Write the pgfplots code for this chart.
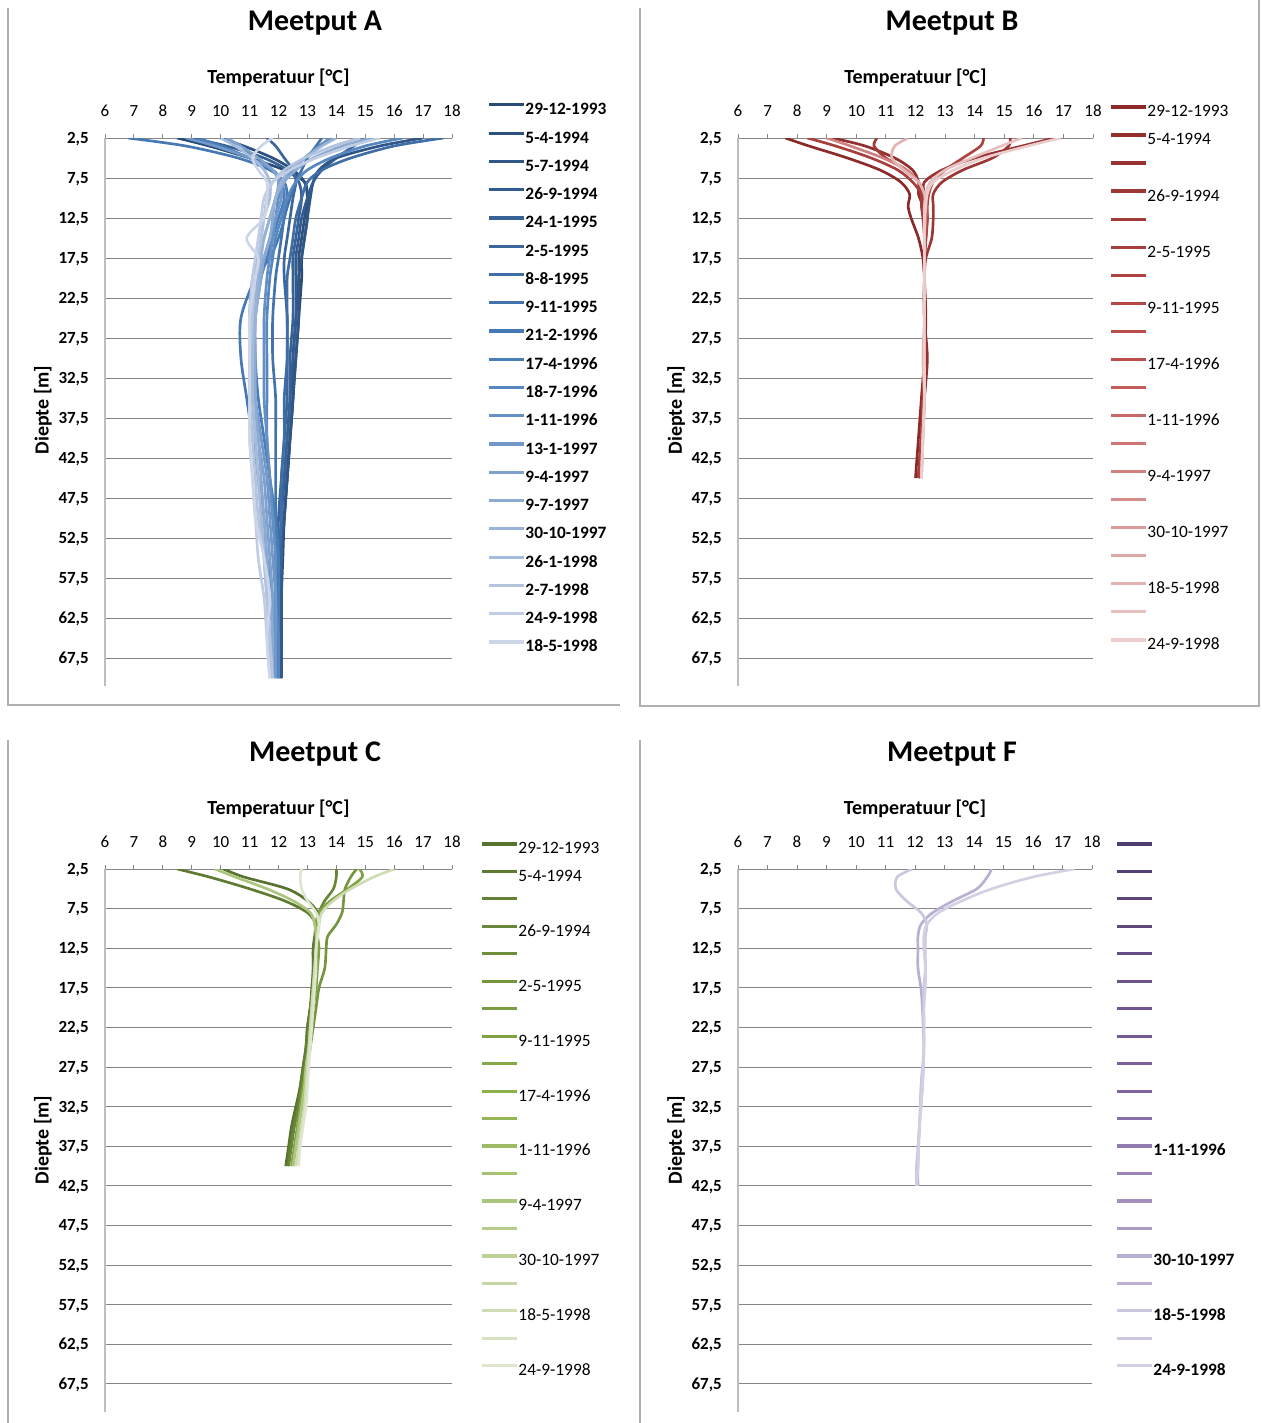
\documentclass[border=0pt]{standalone}
\usepackage{fontspec}
\setmainfont{Carlito}
\usepackage{pgfplots}
\usepackage{pgfplotstable}
\pgfplotsset{compat=1.18}

\definecolor{gridgray}{RGB}{134,134,134}
\definecolor{axisgray}{RGB}{190,190,190}
\definecolor{framegray}{RGB}{175,175,175}

% blue palette (Meetput A)
\definecolor{A1}{RGB}{40,75,120}\definecolor{A2}{RGB}{44,81,127}\definecolor{A3}{RGB}{48,86,135}\definecolor{A4}{RGB}{51,92,142}
\definecolor{A5}{RGB}{55,98,150}\definecolor{A6}{RGB}{59,103,157}\definecolor{A7}{RGB}{63,109,165}\definecolor{A8}{RGB}{67,115,172}
\definecolor{A9}{RGB}{70,120,180}\definecolor{A10}{RGB}{74,126,187}\definecolor{A11}{RGB}{87,135,192}\definecolor{A12}{RGB}{100,144,196}
\definecolor{A13}{RGB}{113,152,201}\definecolor{A14}{RGB}{126,161,205}\definecolor{A15}{RGB}{140,170,210}\definecolor{A16}{RGB}{153,179,214}
\definecolor{A17}{RGB}{166,188,219}\definecolor{A18}{RGB}{179,196,223}\definecolor{A19}{RGB}{192,205,228}\definecolor{A20}{RGB}{205,214,232}
% red palette (Meetput B)
\definecolor{B1}{RGB}{140,42,42}\definecolor{B2}{RGB}{146,46,46}\definecolor{B3}{RGB}{152,50,50}\definecolor{B4}{RGB}{157,55,53}
\definecolor{B5}{RGB}{163,59,57}\definecolor{B6}{RGB}{169,63,61}\definecolor{B7}{RGB}{175,67,65}\definecolor{B8}{RGB}{180,72,69}
\definecolor{B9}{RGB}{186,76,73}\definecolor{B10}{RGB}{192,80,77}\definecolor{B11}{RGB}{196,93,90}\definecolor{B12}{RGB}{201,105,103}
\definecolor{B13}{RGB}{205,118,115}\definecolor{B14}{RGB}{209,130,128}\definecolor{B15}{RGB}{214,143,141}\definecolor{B16}{RGB}{218,155,154}
\definecolor{B17}{RGB}{222,168,167}\definecolor{B18}{RGB}{226,180,180}\definecolor{B19}{RGB}{231,193,192}\definecolor{B20}{RGB}{235,205,205}
% green palette (Meetput C)
\definecolor{C1}{RGB}{88,115,48}\definecolor{C2}{RGB}{94,122,51}\definecolor{C3}{RGB}{100,128,54}\definecolor{C4}{RGB}{105,135,57}
\definecolor{C5}{RGB}{111,142,60}\definecolor{C6}{RGB}{117,149,62}\definecolor{C7}{RGB}{123,156,65}\definecolor{C8}{RGB}{128,162,68}
\definecolor{C9}{RGB}{134,169,71}\definecolor{C10}{RGB}{140,176,74}\definecolor{C11}{RGB}{148,182,87}\definecolor{C12}{RGB}{156,187,100}
\definecolor{C13}{RGB}{165,193,113}\definecolor{C14}{RGB}{173,198,126}\definecolor{C15}{RGB}{181,204,140}\definecolor{C16}{RGB}{189,209,153}
\definecolor{C17}{RGB}{197,215,166}\definecolor{C18}{RGB}{206,220,179}\definecolor{C19}{RGB}{214,226,192}\definecolor{C20}{RGB}{222,231,205}
% purple palette (Meetput F)
\definecolor{F1}{RGB}{80,60,110}\definecolor{F2}{RGB}{85,64,116}\definecolor{F3}{RGB}{91,69,122}\definecolor{F4}{RGB}{96,73,127}
\definecolor{F5}{RGB}{101,78,133}\definecolor{F6}{RGB}{107,82,139}\definecolor{F7}{RGB}{112,87,145}\definecolor{F8}{RGB}{117,91,150}
\definecolor{F9}{RGB}{123,96,156}\definecolor{F10}{RGB}{128,100,162}\definecolor{F11}{RGB}{137,111,169}\definecolor{F12}{RGB}{145,122,175}
\definecolor{F13}{RGB}{154,133,182}\definecolor{F14}{RGB}{163,144,188}\definecolor{F15}{RGB}{172,155,195}\definecolor{F16}{RGB}{185,175,210}
\definecolor{F17}{RGB}{189,177,208}\definecolor{F18}{RGB}{204,198,222}\definecolor{F19}{RGB}{206,199,221}\definecolor{F20}{RGB}{212,207,227}

% ---------------- data: one row per measuring date, columns = depth [m]
\pgfplotstableread{
name 2.5 3.5 5 6.5 8 10 12.5 15 17.5 20 25 30 35 40 45 50 55 60 65 70
s1 8.5 9.6 11.0 12.2 12.9 13.0 13.0 12.9 12.8 12.8 12.7 12.6 12.5 12.4 12.3 12.2 12.15 12.1 12.1 12.1
s2 10.0 10.8 11.8 12.5 12.9 13.0 12.9 12.8 12.7 12.7 12.6 12.5 12.5 12.4 12.3 12.2 12.1 12.1 12.1 12.1
s3 17.0 15.5 14.0 13.4 13.2 13.1 13.0 12.9 12.8 12.7 12.7 12.6 12.5 12.4 12.3 12.2 12.1 12.1 12.1 12.1
s4 15.0 14.6 14.0 13.5 13.2 13.0 12.8 12.7 12.6 12.6 12.6 12.5 12.4 12.3 12.2 12.1 12.1 12.1 12.05 12.05
s5 9.0 10.2 11.5 12.3 12.7 12.8 12.7 12.6 12.5 12.5 12.5 12.4 12.4 12.3 12.2 12.1 12.1 12.0 12.0 12.0
s6 11.6 11.9 12.2 12.5 12.6 12.5 12.4 12.3 12.2 12.2 12.3 12.3 12.3 12.2 12.1 12.0 12.0 12.0 12.0 12.0
s7 17.7 16.0 14.5 13.5 13.0 12.8 12.6 12.5 12.4 12.3 12.3 12.3 12.2 12.2 12.1 12.1 12.0 12.0 12.0 12.0
s8 13.5 13.3 13.0 12.8 12.6 12.4 12.2 12.1 12.0 11.9 11.8 11.8 11.9 11.9 11.9 11.9 11.9 11.9 11.9 11.9
s9 6.8 8.8 10.6 11.7 12.2 12.3 12.2 12.0 11.7 11.2 10.7 10.7 10.9 11.1 11.3 11.5 11.6 11.8 11.9 11.9
s10 9.2 10.0 11.0 11.8 12.1 12.2 12.0 11.8 11.6 11.4 11.2 11.2 11.3 11.5 11.7 11.9 12.0 12.0 12.0 12.0
s11 16.3 15.0 13.8 13.0 12.6 12.3 12.1 11.9 11.8 11.7 11.6 11.6 11.6 11.6 11.7 11.8 11.9 11.9 12.0 12.0
s12 13.8 13.4 12.9 12.5 12.2 12.0 11.9 11.8 11.7 11.6 11.5 11.5 11.5 11.6 11.7 11.8 11.9 11.9 11.9 11.9
s13 8.8 9.8 11.0 11.8 12.1 12.1 11.9 11.7 11.5 11.3 11.1 11.1 11.2 11.4 11.6 11.7 11.8 11.9 11.9 11.9
s14 10.2 10.7 11.3 11.8 12.0 11.9 11.7 11.5 11.3 11.1 11.0 11.1 11.2 11.3 11.5 11.6 11.7 11.8 11.8 11.8
s15 15.2 14.2 13.2 12.6 12.2 11.9 11.8 11.7 11.5 11.4 11.2 11.2 11.2 11.3 11.4 11.5 11.6 11.7 11.8 11.8
s16 14.0 13.5 12.9 12.4 12.1 11.9 11.7 11.5 11.4 11.3 11.2 11.1 11.1 11.2 11.3 11.4 11.5 11.6 11.7 11.8
s17 10.0 10.5 11.1 11.5 11.7 11.7 11.5 11.4 11.3 11.2 11.1 11.1 11.1 11.2 11.3 11.4 11.5 11.6 11.7 11.7
s18 14.8 13.9 12.9 12.2 11.8 11.6 11.5 11.4 11.3 11.2 11.1 11.0 11.0 11.1 11.2 11.3 11.5 11.6 11.7 11.8
s19 15.5 14.5 13.3 12.4 11.8 11.5 11.4 11.3 11.2 11.1 11.0 11.0 11.0 11.0 11.1 11.2 11.3 11.5 11.6 11.7
s20 11.8 11.4 11.1 11.3 11.6 11.6 11.5 10.9 11.3 11.2 11.0 11.0 11.0 11.0 11.1 11.2 11.5 11.7 11.6 11.7
}\rawA
\pgfplotstabletranspose[colnames from=name,input colnames to=d]\dataA\rawA

\pgfplotstableread{
name 2.5 3.5 5 6.5 8 9.5 11 12.5 15 17.5 20 25 30 35 40 45
s1 7.6 8.4 9.7 10.8 11.5 11.8 11.75 11.85 12.1 12.25 12.3 12.35 12.3 12.2 12.1 12.0
s2 9.2 10.3 11.3 11.9 12.1 12.1 12.25 12.3 12.3 12.3 12.3 12.3 12.4 12.3 12.2 12.1
s3 16.7 15.6 14.0 12.9 12.3 12.3 12.35 12.4 12.35 12.3 12.3 12.3 12.35 12.3 12.2 12.1
s4 15.2 15.15 14.6 13.6 12.9 12.6 12.6 12.6 12.55 12.35 12.3 12.3 12.3 12.3 12.2 12.1
s5 10.7 10.6 11.0 11.7 12.1 12.2 12.2 12.25 12.3 12.3 12.3 12.3 12.3 12.25 12.2 12.15
s6 8.35 9.3 10.5 11.4 11.9 12.2 12.3 12.35 12.35 12.3 12.3 12.3 12.3 12.25 12.2 12.1
s7 14.3 14.2 13.6 13.0 12.6 12.45 12.4 12.4 12.35 12.3 12.3 12.3 12.3 12.3 12.2 12.15
s14 9.0 9.8 10.9 11.7 12.1 12.3 12.35 12.35 12.3 12.3 12.3 12.3 12.3 12.3 12.25 12.2
s18 11.75 11.3 11.2 11.6 12.1 12.3 12.35 12.3 12.3 12.3 12.3 12.3 12.25 12.3 12.25 12.2
s19 15.6 14.9 13.9 13.0 12.5 12.35 12.3 12.3 12.3 12.3 12.3 12.3 12.3 12.3 12.25 12.2
s20 16.9 15.8 14.3 13.3 12.6 12.4 12.35 12.3 12.3 12.3 12.3 12.3 12.3 12.3 12.25 12.2
}\rawB
\pgfplotstabletranspose[colnames from=name,input colnames to=d]\dataB\rawB

\pgfplotstableread{
name 2.5 3.5 5 6.5 8 9.5 11 12.5 15 17.5 20 22.5 25 27.5 30 32.5 35 37.5 40
s1 10.1 10.8 12.3 13.0 13.35 13.3 13.25 13.2 13.2 13.2 13.1 13.0 12.95 12.85 12.75 12.6 12.45 12.35 12.25
s2 8.5 9.6 11.0 12.2 13.0 13.3 13.3 13.2 13.2 13.15 13.1 13.0 12.95 12.85 12.75 12.65 12.5 12.4 12.3
s4 14.0 14.0 13.9 13.6 13.4 13.35 13.3 13.3 13.3 13.2 13.1 13.05 13.0 12.9 12.8 12.7 12.55 12.45 12.35
s6 14.7 14.5 14.3 14.25 14.2 14.0 13.7 13.65 13.6 13.4 13.3 13.2 13.1 13.0 12.9 12.8 12.7 12.6 12.5
s8 14.8 14.9 14.4 13.8 13.4 13.3 13.35 13.4 13.35 13.3 13.2 13.1 13.05 12.95 12.85 12.75 12.65 12.55 12.45
s14 9.8 10.5 11.6 12.5 13.1 13.25 13.3 13.3 13.25 13.2 13.15 13.1 13.05 12.95 12.9 12.8 12.7 12.6 12.5
s18 16.0 15.3 14.5 13.9 13.5 13.4 13.35 13.3 13.25 13.2 13.15 13.1 13.05 13.0 12.95 12.9 12.8 12.7 12.6
s20 12.8 12.75 12.8 13.0 13.3 13.4 13.35 13.3 13.3 13.25 13.2 13.15 13.1 13.05 13.0 12.95 12.85 12.75 12.7
}\rawC
\pgfplotstabletranspose[colnames from=name,input colnames to=d]\dataC\rawC

\pgfplotstableread{
name 2.5 3.5 5 6.5 8 9.5 11 12.5 15 17.5 20 25 30 35 40 42.5
s16 14.6 14.45 14.1 13.3 12.6 12.2 12.1 12.1 12.1 12.2 12.25 12.3 12.25 12.15 12.1 12.1
s18 11.9 11.4 11.35 11.7 12.2 12.4 12.35 12.35 12.35 12.3 12.3 12.3 12.2 12.15 12.05 12.05
s20 17.4 16.0 14.6 13.6 12.8 12.4 12.3 12.3 12.35 12.35 12.3 12.3 12.25 12.15 12.1 12.05
}\rawF
\pgfplotstabletranspose[colnames from=name,input colnames to=d]\dataF\rawF

\pgfplotsset{
  meet/.style={
    scale only axis,
    xmin=6, xmax=18, ymin=2.5, ymax=71, y dir=reverse,
    axis x line*=top, axis y line*=left,
    xtick={6,...,18},
    ytick={2.5,7.5,...,67.5},
    yticklabels={{2,5},{7,5},{12,5},{17,5},{22,5},{27,5},{32,5},{37,5},{42,5},{47,5},{52,5},{57,5},{62,5},{67,5}},
    ymajorgrids, grid style={color=gridgray, line width=0.75pt},
    x axis line style={color=gridgray, line width=0.75pt, -},
    y axis line style={color=axisgray, line width=1.5pt, -},
    xtick style={color=gridgray, line width=0.75pt},
    ytick style={draw=none},
    major tick length=3pt, tick align=outside,
    /pgf/number format/assume math mode=true,
    xticklabel style={font=\fontsize{12.75}{14}\selectfont, anchor=base, inner sep=0pt, yshift=13.2pt},
    yticklabel style={font=\fontsize{12.75}{14}\selectfont\bfseries, anchor=base east, inner sep=0pt, xshift=-9pt, yshift=-4pt},
    title style={font=\fontsize{22.5}{26}\selectfont\bfseries, anchor=base, inner sep=0pt},
    xlabel style={font=\fontsize{15}{18}\selectfont\bfseries, anchor=base, inner sep=0pt},
    ylabel style={font=\fontsize{15}{18}\selectfont\bfseries, anchor=center, inner sep=0pt},
    xlabel={Temperatuur [°C]}, ylabel={Diepte [m]},
    no markers,
    every axis plot/.append style={smooth, line width=2pt},
    legend cell align=left,
    legend image code/.code={\draw[##1, line width=2.4pt] (0pt,4.2pt) -- (26.25pt,4.2pt);},
  },
  leg/.style n args={4}{legend style={at={(#1,#2)}, anchor=north west, draw=none, fill=none,
      inner sep=0pt, row sep=#3, font=\fontsize{13}{15}\selectfont#4,
      nodes={inner sep=0pt, text height=9.5pt, text depth=3pt},
      /tikz/every odd column/.append style={column sep=0pt}}},
}

\begin{document}
\begin{tikzpicture}
\path[use as bounding box] (0pt,0pt) rectangle (945.75pt,-1067.25pt);
% chart frames
\draw[framegray, line width=1pt] (6pt,-6pt) -- (6pt,-528.75pt) -- (465pt,-528.75pt);
\draw[framegray, line width=1pt] (480pt,-6pt) -- (480pt,-529.5pt) -- (944.25pt,-529.5pt) -- (944.25pt,0pt);
\draw[framegray, line width=1pt] (6pt,-555pt) -- (6pt,-1067.25pt);
\draw[framegray, line width=1pt] (480pt,-555pt) -- (480pt,-1067.25pt);

% ---------------- Meetput A
\begin{axis}[meet, at={(78.75pt,-103.5pt)}, anchor=north west, width=260.25pt, height=411pt,
  title={Meetput A}, title style={at={(axis description cs:0.6052,1.1807)}},
  xlabel style={at={(axis description cs:0.5,1.0995)}},
  ylabel style={at={(axis description cs:-0.1787,0.5036)}},
  leg={1.1009}{1.0659}{8.7pt}{\bfseries},
  legend entries={29-12-1993,5-4-1994,5-7-1994,26-9-1994,24-1-1995,2-5-1995,8-8-1995,9-11-1995,21-2-1996,17-4-1996,18-7-1996,1-11-1996,13-1-1997,9-4-1997,9-7-1997,30-10-1997,26-1-1998,2-7-1998,24-9-1998,18-5-1998}]
\pgfplotsinvokeforeach{1,...,20}{\addplot[color=A#1] table[x=s#1,y=d]{\dataA};}
\end{axis}

% ---------------- Meetput B
\begin{axis}[meet, at={(553.5pt,-103.5pt)}, anchor=north west, width=266.25pt, height=411pt,
  title={Meetput B}, title style={at={(axis description cs:0.6028,1.1807)}},
  xlabel style={at={(axis description cs:0.5,1.0995)}},
  ylabel style={at={(axis description cs:-0.1746,0.5036)}},
  leg={1.0451}{1.0622}{8.54pt}{},
  legend entries={29-12-1993,5-4-1994,\mbox{},26-9-1994,\mbox{},2-5-1995,\mbox{},9-11-1995,\mbox{},17-4-1996,\mbox{},1-11-1996,\mbox{},9-4-1997,\mbox{},30-10-1997,\mbox{},18-5-1998,\mbox{},24-9-1998}]
\pgfplotsinvokeforeach{1,...,7}{\addplot[color=B#1] table[x=s#1,y=d]{\dataB};}
\pgfplotsinvokeforeach{8,...,13}{\addlegendimage{color=B#1}}
\addplot[color=B14] table[x=s14,y=d]{\dataB};
\pgfplotsinvokeforeach{15,16,17}{\addlegendimage{color=B#1}}
\pgfplotsinvokeforeach{18,19,20}{\addplot[color=B#1] table[x=s#1,y=d]{\dataB};}
\end{axis}

% ---------------- Meetput C
\begin{axis}[meet, at={(78.75pt,-651.75pt)}, anchor=north west, width=260.25pt, height=407pt,
  title={Meetput C}, title style={at={(axis description cs:0.6052,1.183)}},
  xlabel style={at={(axis description cs:0.5,1.1004)}},
  ylabel style={at={(axis description cs:-0.1787,0.5006)}},
  leg={1.0807}{1.0518}{8.1pt}{},
  legend entries={29-12-1993,5-4-1994,\mbox{},26-9-1994,\mbox{},2-5-1995,\mbox{},9-11-1995,\mbox{},17-4-1996,\mbox{},1-11-1996,\mbox{},9-4-1997,\mbox{},30-10-1997,\mbox{},18-5-1998,\mbox{},24-9-1998}]
\pgfplotsinvokeforeach{1,2}{\addplot[color=C#1] table[x=s#1,y=d]{\dataC};}
\addlegendimage{color=C3}
\addplot[color=C4] table[x=s4,y=d]{\dataC};
\addlegendimage{color=C5}
\addplot[color=C6] table[x=s6,y=d]{\dataC};
\addlegendimage{color=C7}
\addplot[color=C8] table[x=s8,y=d]{\dataC};
\pgfplotsinvokeforeach{9,...,13}{\addlegendimage{color=C#1}}
\addplot[color=C14] table[x=s14,y=d]{\dataC};
\pgfplotsinvokeforeach{15,16,17}{\addlegendimage{color=C#1}}
\addplot[color=C18] table[x=s18,y=d]{\dataC};
\addlegendimage{color=C19}
\addplot[color=C20] table[x=s20,y=d]{\dataC};
\end{axis}

% ---------------- Meetput F
\begin{axis}[meet, at={(553.5pt,-651.75pt)}, anchor=north west, width=265.5pt, height=407pt,
  title={Meetput F}, title style={at={(axis description cs:0.6045,1.183)}},
  xlabel style={at={(axis description cs:0.5,1.1004)}},
  ylabel style={at={(axis description cs:-0.1751,0.5006)}},
  leg={1.0650}{1.0518}{8.1pt}{\bfseries},
  legend entries={\mbox{},\mbox{},\mbox{},\mbox{},\mbox{},\mbox{},\mbox{},\mbox{},\mbox{},\mbox{},\mbox{},1-11-1996,\mbox{},\mbox{},\mbox{},30-10-1997,\mbox{},18-5-1998,\mbox{},24-9-1998}]
\pgfplotsinvokeforeach{1,...,15}{\addlegendimage{color=F#1}}
\addplot[color=F16] table[x=s16,y=d]{\dataF};
\addlegendimage{color=F17}
\addplot[color=F18] table[x=s18,y=d]{\dataF};
\addlegendimage{color=F19}
\addplot[color=F20] table[x=s20,y=d]{\dataF};
\end{axis}
\end{tikzpicture}
\end{document}
